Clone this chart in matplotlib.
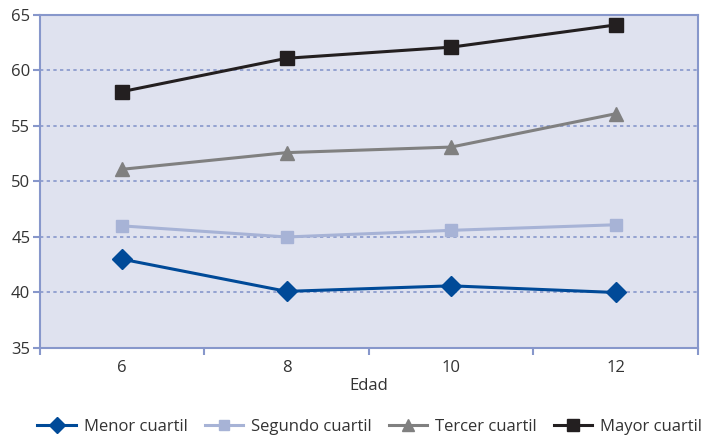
import matplotlib
matplotlib.use("Agg")
import matplotlib.pyplot as plt
import numpy as np

edades = [6, 8, 10, 12]
menor = [43.0, 40.1, 40.6, 40.0]
segundo = [46.0, 45.0, 45.6, 46.1]
tercer = [51.1, 52.6, 53.1, 56.1]
mayor = [58.1, 61.1, 62.1, 64.1]
y_ticks = [35, 40, 45, 50, 55, 60, 65]

plt.rcParams['font.family'] = ['Open Sans', 'DejaVu Sans']

fig = plt.figure(figsize=(7.02, 4.38), dpi=100)
ax = fig.add_axes([0.057, 0.2055, 0.937, 0.7603])
ax.set_facecolor('#dfe2ef')

frame = '#8797cb'
txt = '#333333'
ax.plot(edades, menor, color='#004a98', lw=2.2, marker='D', ms=10, label='Menor cuartil')
ax.plot(edades, segundo, color='#a7b3d6', lw=2.2, marker='s', ms=9, label='Segundo cuartil')
ax.plot(edades, tercer, color='#808080', lw=2.2, marker='^', ms=10, label='Tercer cuartil')
ax.plot(edades, mayor, color='#231f20', lw=2.2, marker='s', ms=10, label='Mayor cuartil')

ax.set_xlim(5, 13)
ax.set_ylim(35, 65)
ax.set_yticks(y_ticks)
ax.set_xticks(edades)
ax.set_xticks([5, 7, 9, 11, 13], minor=True)
ax.tick_params(axis='x', which='major', length=0, pad=9, labelsize=12, labelcolor=txt)
ax.tick_params(axis='x', which='minor', length=5, width=1.5, color=frame)
ax.tick_params(axis='y', length=5, width=1.5, color=frame, labelsize=12, labelcolor=txt, pad=2)
ax.grid(axis='y', color=frame, ls=(0, (2, 2)), lw=1.2)
ax.set_axisbelow(True)
for s in ax.spines.values():
    s.set_color(frame)
    s.set_linewidth(1.5)
ax.set_xlabel('Edad', fontsize=12, color=txt, labelpad=1)

handles, labels = ax.get_legend_handles_labels()
fig.legend(handles, labels, loc='center', bbox_to_anchor=(0.527, 0.026), ncol=4, frameon=False,
           fontsize=12, handlelength=2.3, columnspacing=1.0, handletextpad=0.5,
           labelcolor=txt, markerscale=0.8, borderaxespad=0)

fig.savefig('out.png', dpi=100)
